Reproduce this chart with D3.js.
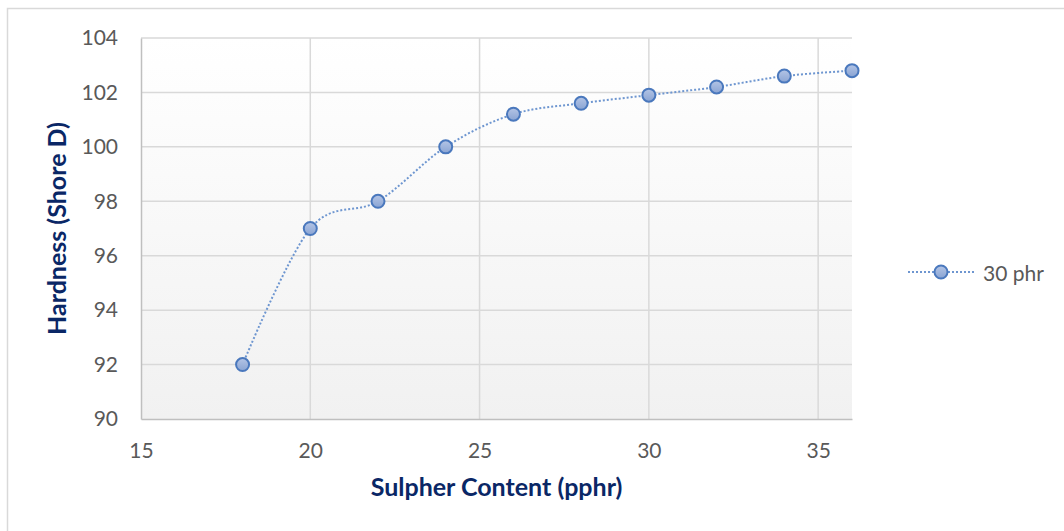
<!DOCTYPE html>
<html>
<head>
<meta charset="utf-8">
<script src="https://cdn.jsdelivr.net/npm/d3@7"></script>
<style>
  html, body { margin: 0; padding: 0; background: #ffffff; }
  svg { display: block; }
</style>
</head>
<body>
<svg id="chart" width="1064" height="531"></svg>
<script>
const sulphur = [18, 20, 22, 24, 26, 28, 30, 32, 34, 36];
const hardness = [92, 97, 98, 100, 101.2, 101.6, 101.9, 102.2, 102.6, 102.8];
const xTicks = [15, 20, 25, 30, 35];
const yTicks = [90, 92, 94, 96, 98, 100, 102, 104];
const seriesName = "30 phr";
const xTitle = "Sulpher Content (pphr)";
const yTitle = "Hardness (Shore D)";

const W = 1064, H = 531;
const m = { left: 141, top: 38, right: 852, bottom: 419 };
const font = "Lato, 'Open Sans', sans-serif";

const svg = d3.select("#chart");
const defs = svg.append("defs");

const bg = defs.append("linearGradient").attr("id", "plotbg")
  .attr("x1", 0).attr("y1", 0).attr("x2", 0).attr("y2", 1);
bg.append("stop").attr("offset", "0%").attr("stop-color", "#ffffff");
bg.append("stop").attr("offset", "100%").attr("stop-color", "#f1f1f1");

const mk = defs.append("linearGradient").attr("id", "markerfill")
  .attr("x1", 0).attr("y1", 0).attr("x2", 0).attr("y2", 1);
mk.append("stop").attr("offset", "0%").attr("stop-color", "#b4c5e6");
mk.append("stop").attr("offset", "100%").attr("stop-color", "#8aa4d3");

// outer chart border (extends beyond the bottom/right of the frame)
svg.append("rect")
  .attr("x", 7.5).attr("y", 8.5)
  .attr("width", W + 20).attr("height", H + 20)
  .attr("fill", "#ffffff")
  .attr("stroke", "#d9d9d9").attr("stroke-width", 1.5);

const x = d3.scaleLinear().domain([15, 36]).range([m.left, m.right]);
const y = d3.scaleLinear().domain([90, 104]).range([m.bottom, m.top]);

// plot background
svg.append("rect")
  .attr("x", m.left).attr("y", m.top)
  .attr("width", m.right - m.left).attr("height", m.bottom - m.top)
  .attr("fill", "url(#plotbg)");

// gridlines
const grid = svg.append("g");
grid.selectAll("line.h").data(yTicks.filter(d => d !== 90)).join("line")
  .attr("x1", m.left).attr("x2", m.right)
  .attr("y1", d => y(d)).attr("y2", d => y(d))
  .attr("stroke", "#d9d9d9").attr("stroke-width", 1.5);
grid.selectAll("line.v").data(xTicks.filter(d => d !== 15)).join("line")
  .attr("y1", m.top).attr("y2", m.bottom)
  .attr("x1", d => x(d)).attr("x2", d => x(d))
  .attr("stroke", "#d9d9d9").attr("stroke-width", 1.5);

// axes
const xAxis = svg.append("g")
  .attr("transform", `translate(0,${m.bottom})`)
  .call(d3.axisBottom(x).tickValues(xTicks).tickSize(0).tickPadding(24));
xAxis.select(".domain").attr("stroke", "#bfbfbf").attr("stroke-width", 1.5);
xAxis.selectAll("text").attr("fill", "#595959").style("font-family", font).style("font-size", "21px");

const yAxis = svg.append("g")
  .attr("transform", `translate(${m.left},0)`)
  .call(d3.axisLeft(y).tickValues(yTicks).tickSize(0).tickPadding(23));
yAxis.select(".domain").attr("stroke", "#bfbfbf").attr("stroke-width", 1.5);
yAxis.selectAll("text").attr("fill", "#595959").style("font-family", font).style("font-size", "21px");

// axis titles
svg.append("text")
  .attr("x", (m.left + m.right) / 2).attr("y", 496)
  .attr("text-anchor", "middle")
  .attr("fill", "#0a2766").style("font-family", font)
  .style("font-size", "25px").style("font-weight", "bold")
  .text(xTitle);

svg.append("text")
  .attr("transform", `translate(66,${(m.top + m.bottom) / 2}) rotate(-90)`)
  .attr("text-anchor", "middle")
  .attr("fill", "#0a2766").style("font-family", font)
  .style("font-size", "25px").style("font-weight", "bold")
  .text(yTitle);

// series line
const pts = sulphur.map((s, i) => [s, hardness[i]]);
const line = d3.line().x(d => x(d[0])).y(d => y(d[1])).curve(d3.curveCardinal.tension(0));
svg.append("path")
  .attr("d", line(pts))
  .attr("fill", "none")
  .attr("stroke", "#6e96d0").attr("stroke-width", 2)
  .attr("stroke-dasharray", "2 2");

svg.append("g").selectAll("circle").data(pts).join("circle")
  .attr("cx", d => x(d[0])).attr("cy", d => y(d[1]))
  .attr("r", 6.5)
  .attr("fill", "url(#markerfill)")
  .attr("stroke", "#4a78bd").attr("stroke-width", 2);

// legend
const lg = svg.append("g");
lg.append("line").attr("x1", 908).attr("x2", 975).attr("y1", 272).attr("y2", 272)
  .attr("stroke", "#6e96d0").attr("stroke-width", 2).attr("stroke-dasharray", "2 2");
lg.append("circle").attr("cx", 941).attr("cy", 272).attr("r", 6.5)
  .attr("fill", "url(#markerfill)").attr("stroke", "#4a78bd").attr("stroke-width", 2);
lg.append("text").attr("x", 983).attr("y", 272)
  .attr("dominant-baseline", "central")
  .attr("fill", "#595959").style("font-family", font).style("font-size", "21px")
  .text(seriesName);
</script>
</body>
</html>
